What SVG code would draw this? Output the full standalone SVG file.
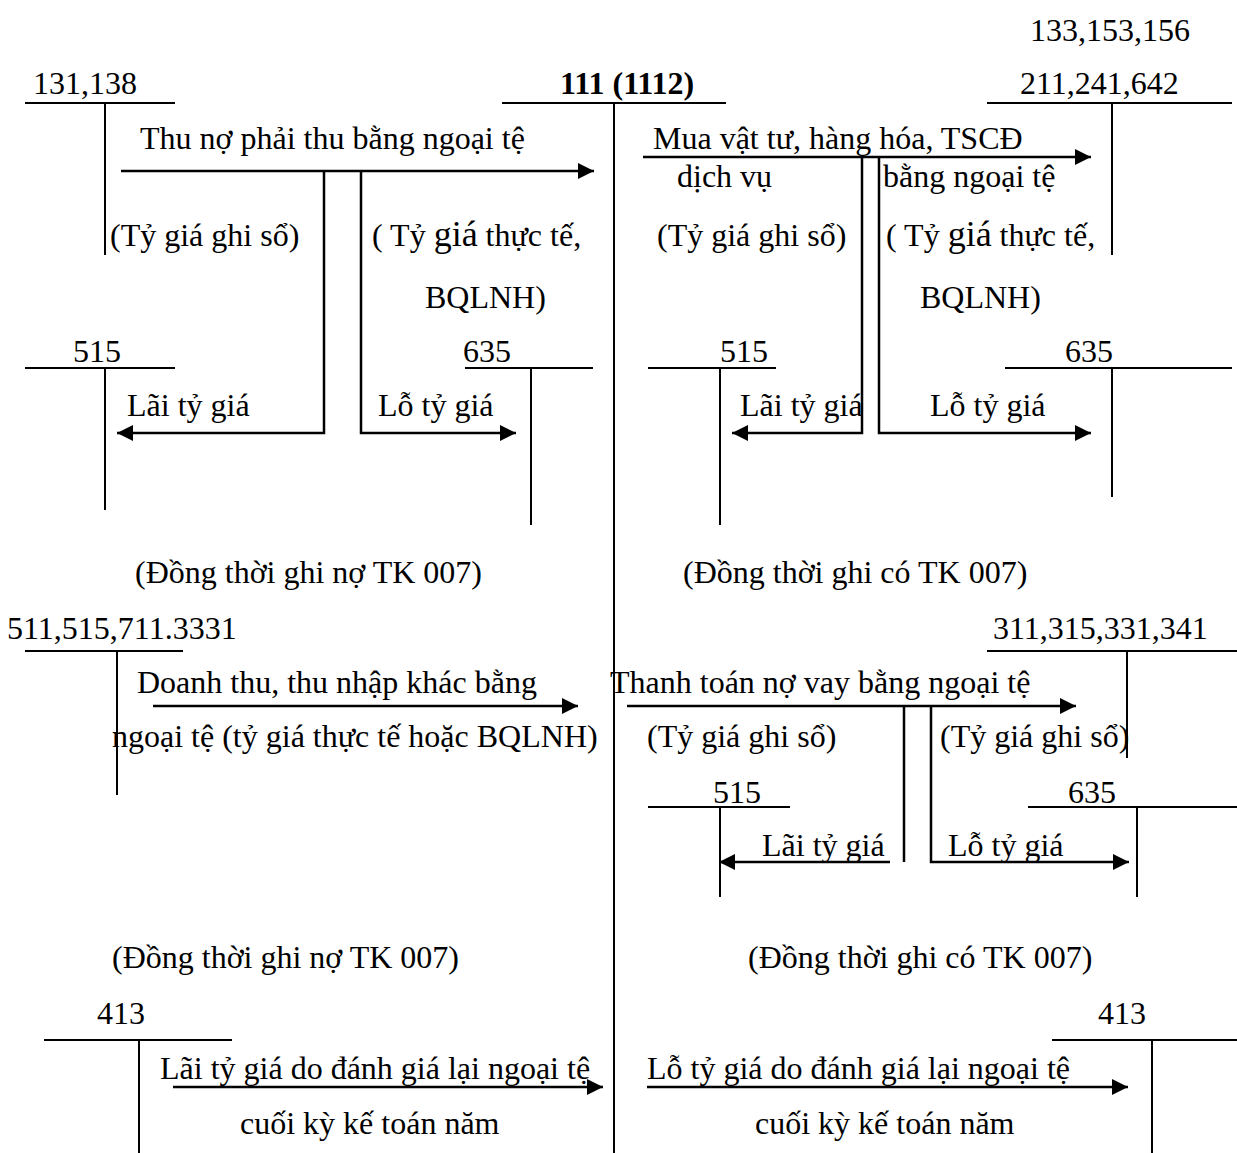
<svg xmlns="http://www.w3.org/2000/svg" width="1237" height="1153" viewBox="0 0 1237 1153">
  <style>
    text { font-family: "Liberation Serif", "Times New Roman", serif; font-size: 32px; fill: #000; }
    .b { font-weight: bold; }
    .big { font-size: 36px; }
    .acct { stroke: #000; stroke-width: 2; fill: none; }
    .flow { stroke: #000; stroke-width: 2.5; fill: none; }
    .arr { marker-end: url(#head); }
  </style>
  <defs>
    <marker id="head" markerUnits="userSpaceOnUse" markerWidth="18" markerHeight="16" refX="16" refY="8" orient="auto">
      <path d="M0,0 L16,8 L0,16 Z" fill="#000"/>
    </marker>
  </defs>

  <rect width="1237" height="1153" fill="#fff"/>

  <!-- T accounts -->
  <g id="acc-111">
    <text class="b" x="560" y="94">111 (1112)</text>
    <line class="acct" x1="502" y1="103" x2="726" y2="103"/>
    <line class="acct" x1="614" y1="103" x2="614" y2="1153"/>
  </g>
  <g id="acc-131-138">
    <text x="33" y="94">131,138</text>
    <line class="acct" x1="25" y1="103" x2="175" y2="103"/>
    <line class="acct" x1="105" y1="103" x2="105" y2="255"/>
  </g>
  <g id="acc-211-241-642">
    <text x="1030" y="41">133,153,156</text>
    <text x="1020" y="94">211,241,642</text>
    <line class="acct" x1="987" y1="103" x2="1232" y2="103"/>
    <line class="acct" x1="1112" y1="103" x2="1112" y2="255"/>
  </g>
  <g id="acc-515-a">
    <text x="73" y="362">515</text>
    <line class="acct" x1="25" y1="368" x2="175" y2="368"/>
    <line class="acct" x1="105" y1="368" x2="105" y2="510"/>
  </g>
  <g id="acc-635-a">
    <text x="463" y="362">635</text>
    <line class="acct" x1="465" y1="368" x2="593" y2="368"/>
    <line class="acct" x1="531" y1="368" x2="531" y2="525"/>
  </g>
  <g id="acc-515-b">
    <text x="720" y="362">515</text>
    <line class="acct" x1="648" y1="368" x2="776" y2="368"/>
    <line class="acct" x1="720" y1="368" x2="720" y2="525"/>
  </g>
  <g id="acc-635-b">
    <text x="1065" y="362">635</text>
    <line class="acct" x1="1005" y1="368" x2="1232" y2="368"/>
    <line class="acct" x1="1112" y1="368" x2="1112" y2="497"/>
  </g>
  <g id="acc-511-515-711">
    <text x="7" y="639">511,515,711.3331</text>
    <line class="acct" x1="25" y1="651" x2="183" y2="651"/>
    <line class="acct" x1="117" y1="651" x2="117" y2="795"/>
  </g>
  <g id="acc-311-315-331-341">
    <text x="993" y="639">311,315,331,341</text>
    <line class="acct" x1="987" y1="651" x2="1237" y2="651"/>
    <line class="acct" x1="1127" y1="651" x2="1127" y2="758"/>
  </g>
  <g id="acc-515-c">
    <text x="713" y="803">515</text>
    <line class="acct" x1="648" y1="807" x2="790" y2="807"/>
    <line class="acct" x1="720" y1="807" x2="720" y2="897"/>
  </g>
  <g id="acc-635-c">
    <text x="1068" y="803">635</text>
    <line class="acct" x1="1028" y1="807" x2="1237" y2="807"/>
    <line class="acct" x1="1137" y1="807" x2="1137" y2="897"/>
  </g>
  <g id="acc-413-a">
    <text x="97" y="1024">413</text>
    <line class="acct" x1="44" y1="1040" x2="232" y2="1040"/>
    <line class="acct" x1="139" y1="1040" x2="139" y2="1153"/>
  </g>
  <g id="acc-413-b">
    <text x="1098" y="1024">413</text>
    <line class="acct" x1="1052" y1="1040" x2="1237" y2="1040"/>
    <line class="acct" x1="1152" y1="1040" x2="1152" y2="1153"/>
  </g>

  <!-- connectors -->
  <g id="connectors">
    <line class="flow arr" x1="121" y1="171" x2="594" y2="171"/>
    <polyline class="flow arr" points="324,171 324,433 117,433"/>
    <polyline class="flow arr" points="361,171 361,433 516,433"/>

    <line class="flow arr" x1="643" y1="157" x2="1091" y2="157"/>
    <polyline class="flow arr" points="862,157 862,433 732,433"/>
    <polyline class="flow arr" points="879,157 879,433 1091,433"/>

    <line class="flow arr" x1="153" y1="706" x2="578" y2="706"/>

    <line class="flow arr" x1="627" y1="706" x2="1076" y2="706"/>
    <line class="flow" x1="904" y1="706" x2="904" y2="862"/>
    <line class="flow arr" x1="890" y1="862" x2="719" y2="862"/>
    <polyline class="flow arr" points="931,706 931,862 1129,862"/>

    <line class="flow arr" x1="173" y1="1087" x2="603" y2="1087"/>
    <line class="flow arr" x1="647" y1="1087" x2="1128" y2="1087"/>
  </g>

  <!-- labels -->
  <g id="labels">
    <text x="140" y="149">Thu nợ phải thu bằng ngoại tệ</text>
    <text x="110" y="246">(Tỷ giá ghi sổ)</text>
    <text x="372" y="246">( Tỷ <tspan class="big">giá</tspan> thực tế,</text>
    <text x="425" y="308">BQLNH)</text>
    <text x="127" y="416">Lãi tỷ giá</text>
    <text x="378" y="416">Lỗ tỷ giá</text>

    <text x="653" y="149">Mua vật tư, hàng hóa, TSCĐ</text>
    <text x="677" y="187">dịch vụ</text>
    <text x="883" y="187">bằng ngoại tệ</text>
    <text x="657" y="246">(Tỷ giá ghi sổ)</text>
    <text x="886" y="246">( Tỷ <tspan class="big">giá</tspan> thực tế,</text>
    <text x="920" y="308">BQLNH)</text>
    <text x="740" y="416">Lãi tỷ giá</text>
    <text x="930" y="416">Lỗ tỷ giá</text>

    <text x="135" y="583">(Đồng thời ghi nợ TK 007)</text>
    <text x="683" y="583">(Đồng thời ghi có TK 007)</text>

    <text x="137" y="693">Doanh thu, thu nhập khác bằng</text>
    <text x="112" y="747">ngoại tệ (tỷ giá thực tế hoặc BQLNH)</text>

    <text x="610" y="693">Thanh toán nợ vay bằng ngoại tệ</text>
    <text x="647" y="747">(Tỷ giá ghi sổ)</text>
    <text x="940" y="747">(Tỷ giá ghi sổ)</text>
    <text x="762" y="856">Lãi tỷ giá</text>
    <text x="948" y="856">Lỗ tỷ giá</text>

    <text x="112" y="968">(Đồng thời ghi nợ TK 007)</text>
    <text x="748" y="968">(Đồng thời ghi có TK 007)</text>

    <text x="160" y="1079">Lãi tỷ giá do đánh giá lại ngoại tệ</text>
    <text x="240" y="1134">cuối kỳ kế toán năm</text>
    <text x="647" y="1079">Lỗ tỷ giá do đánh giá lại ngoại tệ</text>
    <text x="755" y="1134">cuối kỳ kế toán năm</text>
  </g>
</svg>
